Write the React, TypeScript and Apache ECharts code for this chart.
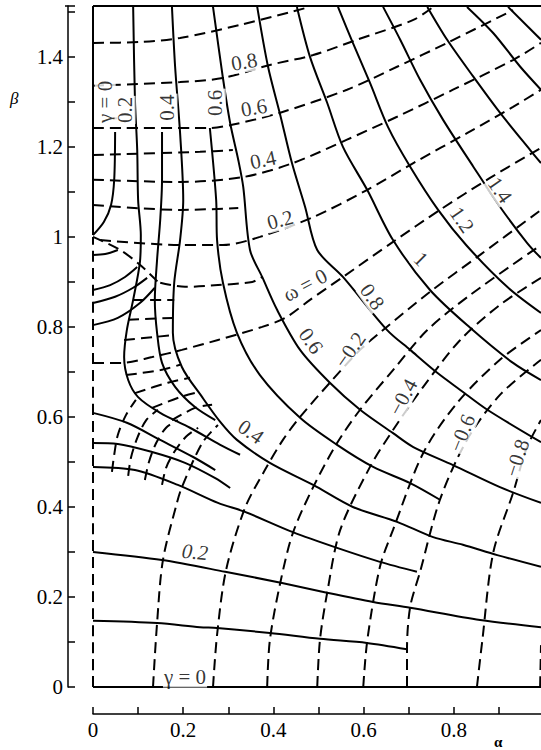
import React, { useEffect, useRef } from "react";
import * as echarts from "echarts";

type Pt = [number, number];

// ---- frame ----
const frameTop: Pt[] = [[0, 1.513], [0.993, 1.513]];
const frameBottom: Pt[] = [[0, 0], [0.993, 0]];
const leftSolid: Pt[] = [[0, 1.004], [0, 1.513]];
const leftDashed: Pt[] = [[0, 0], [0, 1.0]];

// ---- solid curves, upper-right family ----
const solidU1: Pt[] = [[0.266, 1.511], [0.288, 1.353], [0.304, 1.253], [0.322, 1.171], [0.333, 1.111], [0.348, 0.971], [0.375, 0.911], [0.408, 0.838], [0.459, 0.749], [0.525, 0.676], [0.592, 0.616], [0.665, 0.564], [0.71, 0.533], [0.798, 0.493], [0.902, 0.444], [0.993, 0.409]];
const solidU2: Pt[] = [[0.364, 1.511], [0.388, 1.378], [0.415, 1.271], [0.441, 1.164], [0.47, 1.067], [0.497, 0.971], [0.554, 0.911], [0.652, 0.793], [0.703, 0.749], [0.763, 0.698], [0.814, 0.66], [0.874, 0.616], [0.993, 0.544]];
const solidU3: Pt[] = [[0.452, 1.511], [0.481, 1.4], [0.519, 1.298], [0.554, 1.2], [0.608, 1.104], [0.665, 0.993], [0.747, 0.882], [0.836, 0.798], [0.931, 0.72], [0.993, 0.682]];
const solidU4: Pt[] = [[0.543, 1.511], [0.576, 1.431], [0.614, 1.342], [0.654, 1.244], [0.703, 1.156], [0.765, 1.06], [0.827, 0.982], [0.918, 0.889], [0.993, 0.831]];
const solidU5: Pt[] = [[0.643, 1.511], [0.681, 1.438], [0.725, 1.349], [0.776, 1.26], [0.843, 1.156], [0.902, 1.067], [0.962, 0.987], [0.993, 0.953]];
const solidU6: Pt[] = [[0.741, 1.511], [0.785, 1.438], [0.843, 1.356], [0.902, 1.276], [0.969, 1.193], [0.993, 1.164]];
const solidU7: Pt[] = [[0.829, 1.511], [0.887, 1.453], [0.947, 1.378], [0.993, 1.327]];
const solidU8: Pt[] = [[0.92, 1.511], [0.993, 1.438]];

// ---- solid curves, upper-left and the dense band ----
const solidB: Pt[] = [[0.089, 1.511], [0.093, 1.304], [0.098, 1.193], [0.1, 1.082], [0.106, 1.004], [0.104, 0.944], [0.089, 0.86], [0.075, 0.793], [0.069, 0.733], [0.078, 0.682], [0.1, 0.644], [0.149, 0.609], [0.215, 0.576], [0.282, 0.538], [0.326, 0.516]];
const solidC: Pt[] = [[0.175, 1.511], [0.182, 1.378], [0.193, 1.231], [0.2, 1.082], [0.193, 0.993], [0.18, 0.898], [0.177, 0.787], [0.197, 0.711], [0.242, 0.644], [0.282, 0.589], [0.319, 0.549], [0.392, 0.498], [0.488, 0.449], [0.576, 0.4], [0.674, 0.367], [0.754, 0.333], [0.82, 0.316], [0.896, 0.293], [0.993, 0.267]];
const solidD: Pt[] = [[0.049, 1.233], [0.047, 1.127], [0.04, 1.071], [0.024, 1.033], [0, 1.004]];
const solidE: Pt[] = [[0.153, 1.233], [0.153, 1.127], [0.149, 1.038], [0.142, 0.949], [0.137, 0.86], [0.142, 0.787], [0.153, 0.72], [0.182, 0.667], [0.226, 0.622], [0.271, 0.593]];
const solidF: Pt[] = [[0.259, 1.242], [0.273, 1.082], [0.275, 0.993], [0.288, 0.898], [0.319, 0.787], [0.37, 0.693], [0.459, 0.598], [0.541, 0.538], [0.621, 0.489], [0.703, 0.453], [0.769, 0.416]];
const fan0: Pt[] = [[0, 0.96], [0.027, 0.962], [0.055, 0.971]];
const fan1: Pt[] = [[0, 0.882], [0.038, 0.893], [0.071, 0.911], [0.098, 0.933]];
const fan2: Pt[] = [[0, 0.853], [0.049, 0.867], [0.089, 0.887], [0.12, 0.909]];
const fan3: Pt[] = [[0, 0.804], [0.055, 0.82], [0.104, 0.853], [0.137, 0.887]];

// ---- solid curves, lower family ----
const solid015: Pt[] = [[0, 0.147], [0.142, 0.142], [0.237, 0.133], [0.275, 0.131], [0.392, 0.12], [0.503, 0.107], [0.607, 0.098], [0.696, 0.084]];
const solid030: Pt[] = [[0, 0.3], [0.153, 0.282], [0.293, 0.256], [0.419, 0.231], [0.521, 0.209], [0.621, 0.189], [0.703, 0.176], [0.858, 0.149], [0.993, 0.133]];
const solid049: Pt[] = [[0, 0.489], [0.093, 0.482], [0.188, 0.449], [0.277, 0.409], [0.337, 0.389], [0.443, 0.344], [0.541, 0.309], [0.636, 0.278], [0.718, 0.256]];
const solid054: Pt[] = [[0, 0.542], [0.055, 0.54], [0.131, 0.522], [0.204, 0.498], [0.271, 0.464], [0.304, 0.442]];
const solid061: Pt[] = [[0, 0.609], [0.075, 0.587], [0.149, 0.549], [0.222, 0.511], [0.271, 0.482]];

// ---- dashed curves, upper ----
const dashTop1: Pt[] = [[0, 1.431], [0.104, 1.433], [0.193, 1.442], [0.326, 1.471], [0.481, 1.511]];
const dashTop2: Pt[] = [[0, 1.336], [0.193, 1.344], [0.288, 1.353], [0.392, 1.382], [0.488, 1.404], [0.585, 1.438], [0.71, 1.482], [0.754, 1.511]];
const dashTop3: Pt[] = [[0, 1.242], [0.259, 1.242], [0.308, 1.249], [0.415, 1.276], [0.563, 1.327], [0.674, 1.378], [0.785, 1.431], [0.931, 1.504]];
const dashL153: Pt[] = [[0, 1.182], [0.237, 1.189], [0.31, 1.193]];
const dash04: Pt[] = [[0, 1.127], [0.193, 1.122], [0.333, 1.133], [0.443, 1.164], [0.563, 1.216], [0.674, 1.267], [0.798, 1.327], [0.931, 1.393], [0.993, 1.431]];
const dashL210: Pt[] = [[0, 1.071], [0.193, 1.06], [0.322, 1.064]];
const dash02: Pt[] = [[0.016, 0.993], [0.193, 0.982], [0.288, 0.982], [0.37, 1.0], [0.488, 1.044], [0.607, 1.104], [0.71, 1.164], [0.83, 1.231], [0.931, 1.289], [0.993, 1.327]];
const dashL285: Pt[] = [[0.149, 0.898], [0.204, 0.889], [0.277, 0.893], [0.353, 0.9], [0.375, 0.911]];
const dashW0: Pt[] = [[0, 0.72], [0.064, 0.72], [0.131, 0.733], [0.197, 0.749], [0.277, 0.771], [0.375, 0.8], [0.426, 0.82], [0.481, 0.86], [0.554, 0.911], [0.665, 0.989], [0.769, 1.06], [0.88, 1.131], [0.993, 1.198]];
const dashQ: Pt[] = [[0, 1.0], [0.06, 0.971], [0.104, 0.938], [0.144, 0.9]];

// ---- dashed cross lines in the dense band ----
const bandX1: Pt[] = [[0.089, 0.86], [0.18, 0.86]];
const bandX2: Pt[] = [[0.078, 0.816], [0.177, 0.82]];
const bandX3: Pt[] = [[0.069, 0.771], [0.18, 0.782]];
const bandX4: Pt[] = [[0.073, 0.693], [0.149, 0.704], [0.193, 0.716]];
const bandX5: Pt[] = [[0.093, 0.653], [0.166, 0.676], [0.215, 0.687]];
const bandX6: Pt[] = [[0.131, 0.62], [0.193, 0.644], [0.237, 0.656]];
const bandX7: Pt[] = [[0.175, 0.593], [0.226, 0.62], [0.264, 0.627]];
const arcC1: Pt[] = [[0.042, 0.478], [0.047, 0.516], [0.055, 0.56], [0.073, 0.604], [0.095, 0.638]];
const arcC2: Pt[] = [[0.078, 0.469], [0.084, 0.509], [0.098, 0.553], [0.118, 0.593], [0.144, 0.616]];
const arcC3: Pt[] = [[0.115, 0.46], [0.124, 0.5], [0.14, 0.542], [0.162, 0.576], [0.188, 0.593]];
const arcC4: Pt[] = [[0.153, 0.449], [0.162, 0.487], [0.18, 0.522], [0.206, 0.556], [0.233, 0.576]];

// ---- dashed spokes ----
const spoke1: Pt[] = [[0.133, 0], [0.142, 0.142], [0.155, 0.282], [0.186, 0.409], [0.197, 0.444], [0.242, 0.542], [0.277, 0.582]];
const spokeA: Pt[] = [[0.266, 0], [0.275, 0.116], [0.295, 0.26], [0.337, 0.398], [0.381, 0.482], [0.421, 0.549], [0.459, 0.6], [0.525, 0.676], [0.592, 0.749], [0.643, 0.793], [0.747, 0.878], [0.858, 0.96], [0.993, 1.06]];
const spokeB: Pt[] = [[0.386, 0], [0.392, 0.104], [0.415, 0.231], [0.443, 0.342], [0.488, 0.444], [0.541, 0.542], [0.592, 0.616], [0.665, 0.704], [0.741, 0.793], [0.836, 0.871], [0.993, 0.982]];
const spokeC: Pt[] = [[0.497, 0], [0.503, 0.104], [0.519, 0.209], [0.548, 0.349], [0.614, 0.489], [0.665, 0.571], [0.732, 0.667], [0.814, 0.771], [0.902, 0.849], [0.993, 0.909]];
const spokeD: Pt[] = [[0.599, 0], [0.608, 0.104], [0.636, 0.267], [0.665, 0.349], [0.732, 0.52], [0.807, 0.631], [0.902, 0.727], [0.993, 0.793]];
const spokeE: Pt[] = [[0.696, 0], [0.696, 0.084], [0.703, 0.178], [0.725, 0.256], [0.769, 0.416], [0.829, 0.549], [0.902, 0.649], [0.993, 0.727]];
const spokeF: Pt[] = [[0.851, 0], [0.863, 0.104], [0.887, 0.298], [0.931, 0.431], [0.962, 0.533], [0.993, 0.593]];
const spokeG: Pt[] = [[0.991, 0], [0.993, 0.093]];

const solidLines: Pt[][] = [frameTop, frameBottom, leftSolid, solidU1, solidU2, solidU3, solidU4, solidU5, solidU6, solidU7, solidU8, solidB, solidC, solidD, solidE, solidF, fan0, fan1, fan2, fan3, solid015, solid030, solid049, solid054, solid061];
const dashedLines: Pt[][] = [leftDashed, dashTop1, dashTop2, dashTop3, dashL153, dash04, dashL210, dash02, dashL285, dashW0, dashQ, bandX1, bandX2, bandX3, bandX4, bandX5, bandX6, bandX7, arcC1, arcC2, arcC3, arcC4, spoke1, spokeA, spokeB, spokeC, spokeD, spokeE, spokeF, spokeG];

// ---- in-plot labels ----
const labelTexts = ["γ = 0", "0.2", "0.4", "0.6", "0.8", "0.6", "0.4", "0.2", "ω = 0", "0.6", "0.8", "1", "1.2", "1.4", "−0.2", "−0.4", "−0.6", "−0.8", "0.4", "0.2", "γ = 0"];
const labelAlpha = [0.027, 0.071, 0.164, 0.271, 0.335, 0.357, 0.377, 0.415, 0.47, 0.483, 0.619, 0.727, 0.818, 0.902, 0.57, 0.687, 0.818, 0.94, 0.35, 0.226, 0.204];
const labelBeta = [1.3, 1.282, 1.287, 1.298, 1.389, 1.287, 1.171, 1.038, 0.893, 0.769, 0.867, 0.951, 1.038, 1.104, 0.749, 0.644, 0.564, 0.509, 0.567, 0.3, 0.022];
const labelRot = [90, 90, 90, 90, 10, 10, 12, 15, 28, -55, -55, -45, -55, -55, 55, 62, 68, 72, -35, -5, 0];
const labelItalic = [false, false, false, false, false, false, false, false, false, false, false, false, false, false, false, false, false, false, false, true, false];

const FONT = "Liberation Serif";
const INK = "#000";

export default function App() {
  const ref = useRef<HTMLDivElement>(null);
  useEffect(() => {
    if (!ref.current) return;
    const chart = echarts.init(ref.current, undefined, { renderer: "svg" });
    const fmt = (v: number) => {
      const r = Math.round(v * 10);
      if (r % 2 !== 0) return "";
      return String(r / 10);
    };
    const series: any[] = [];
    solidLines.forEach((d) =>
      series.push({ type: "line", data: d, showSymbol: false, smooth: 0.3, silent: true, lineStyle: { color: INK, width: 2 } })
    );
    dashedLines.forEach((d) =>
      series.push({ type: "line", data: d, showSymbol: false, smooth: 0.3, silent: true, lineStyle: { color: INK, width: 2, type: [11, 6] } })
    );
    series.push({
      type: "scatter",
      symbolSize: 0,
      silent: true,
      z: 10,
      data: labelTexts.map((t, i) => ({
        value: [labelAlpha[i], labelBeta[i]],
        label: {
          show: true,
          position: "inside",
          formatter: t,
          rotate: labelRot[i],
          fontStyle: labelItalic[i] ? "italic" : "normal",
        },
      })),
      label: { fontFamily: FONT, fontSize: 21, color: INK, backgroundColor: "#fff", padding: [0, 1] },
    });
    const axisCommon = {
      type: "value",
      interval: 0.1,
      axisLine: { show: true, onZero: false, lineStyle: { color: INK, width: 1.5 } },
      axisTick: { show: true, inside: true, length: 7, lineStyle: { color: INK, width: 1.5 } },
      axisLabel: { formatter: fmt, fontFamily: FONT, fontSize: 21, color: INK, margin: 5, showMaxLabel: false },
      splitLine: { show: false },
    };
    chart.setOption({
      animation: false,
      grid: { left: 93, right: 0, top: 6, bottom: 63, containLabel: false },
      xAxis: { ...axisCommon, min: 0, max: 0.993, offset: 27 },
      yAxis: { ...axisCommon, min: 0, max: 1.513, offset: 25 },
      graphic: [
        { type: "line", shape: { x1: 65, y1: 6, x2: 75, y2: 6 }, style: { stroke: INK, lineWidth: 1.5 } },
        { type: "text", left: 10, top: 90, style: { text: "β", font: "italic 17px " + FONT, fill: INK } },
        { type: "text", left: 494, top: 734, style: { text: "α", font: "bold 15px " + FONT, fill: INK } },
      ],
      series,
    });
    return () => chart.dispose();
  }, []);
  return <div ref={ref} style={{ position: "absolute", left: 0, top: 0, width: 541, height: 750 }} />;
}
